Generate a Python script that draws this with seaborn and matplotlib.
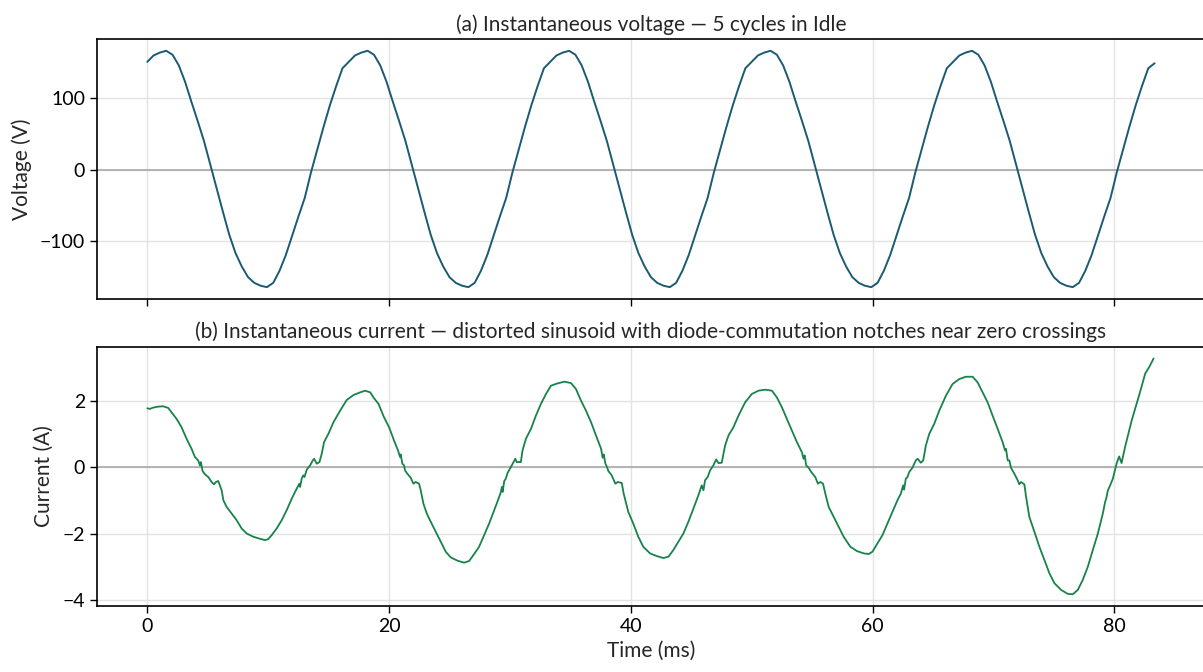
import numpy as np
import pandas as pd
import matplotlib
matplotlib.use("Agg")
import matplotlib.pyplot as plt
import seaborn as sns

# ---------------- data ----------------
# voltage sampled on a uniform grid, 32 samples per 60 Hz cycle, 5 cycles
voltage_v = [
    151, 160, 164, 166.5, 161, 146, 123, 95, 68, 40, 7, -26, -59, -91, -117, -136,
    -151, -159, -163, -165, -159, -142, -120, -93, -66, -40, -4, 28, 60, 90, 117, 142,
    151, 160, 164, 166.5, 161, 146, 123, 95, 68, 40, 7, -26, -59, -91, -117, -136,
    -151, -159, -163, -165, -159, -142, -120, -93, -66, -40, -4, 28, 60, 90, 117, 142,
    151, 160, 164, 166.5, 161, 146, 123, 95, 68, 40, 7, -26, -59, -91, -117, -136,
    -151, -159, -163, -165, -159, -142, -120, -93, -66, -40, -4, 28, 60, 90, 117, 142,
    151, 160, 164, 166.5, 161, 146, 123, 95, 68, 40, 7, -26, -59, -91, -117, -136,
    -151, -159, -163, -165, -159, -142, -120, -93, -66, -40, -4, 28, 60, 90, 117, 142,
    151, 160, 164, 166.5, 161, 146, 123, 95, 68, 40, 7, -26, -59, -91, -117, -136,
    -151, -159, -163, -165, -159, -142, -120, -93, -66, -40, -4, 28, 60, 90, 117, 142,
    149,
]
voltage_time_ms = np.linspace(0.0, 83.33, len(voltage_v))

current_time_ms = [
    0.0, 0.2, 0.48, 0.9, 1.31, 1.73, 2.0, 2.42, 2.83, 3.25, 3.66, 3.94, 4.21, 4.35, 4.43,
    4.57, 4.77, 5.04, 5.32, 5.51, 5.68, 5.87, 6.0, 6.15, 6.29, 6.56, 6.97, 7.39, 7.8, 8.22,
    8.77, 9.32, 9.74, 10.0, 10.29, 10.7, 11.12, 11.53, 11.95, 12.22, 12.4, 12.58, 12.64,
    12.77, 12.9, 13.0, 13.19, 13.47, 13.69, 13.8, 14.02, 14.24, 14.43, 14.62, 14.98, 15.4,
    15.95, 16.5, 17.06, 17.61, 18.02, 18.44, 18.7, 19.13,
    19.58, 20.0, 20.41, 20.74, 20.91, 20.96, 21.1, 21.24, 21.32, 21.51, 21.79, 22.01, 22.2,
    22.48, 22.62, 22.84, 23.12, 23.45, 23.86, 24.28, 24.69, 25.1, 25.66, 26.21, 26.62,
    27.04, 27.45, 27.87, 28.28, 28.7, 29.06, 29.25, 29.33, 29.39, 29.53, 29.66, 29.8,
    30.08, 30.3, 30.44, 30.57, 30.9, 31.04, 31.32, 31.74, 32.15, 32.56, 32.98, 33.39,
    33.94, 34.5, 35.05, 35.46, 35.88, 36.29, 36.71, 37.12, 37.54, 37.67, 37.76, 37.9,
    38.03, 38.14, 38.42, 38.72, 38.92, 39.25, 39.41,
    39.79, 40.2, 40.62, 41.03, 41.59, 42.14, 42.69, 43.11, 43.52, 43.93, 44.35, 44.76,
    45.18, 45.59, 45.87, 46.01, 46.14, 46.36, 46.56, 46.83, 47.06, 47.25, 47.52, 47.8,
    48.08, 48.49, 48.91, 49.46, 50.01, 50.56, 51.12, 51.67, 52.08, 52.5, 52.91, 53.33,
    53.74, 54.15, 54.29, 54.38, 54.51, 54.71, 54.93, 55.26, 55.48, 55.67, 55.9, 56.09,
    56.37, 56.78, 57.19, 57.61, 58.16, 58.71, 59.27, 59.68,
    59.99, 60.4, 60.82, 61.23, 61.65, 62.06, 62.34, 62.53, 62.61, 62.75, 62.89, 63.03,
    63.3, 63.58, 63.72, 64.0, 64.19, 64.41, 64.69, 65.1, 65.52, 66.07, 66.62, 67.17,
    67.72, 68.28, 68.69, 69.11, 69.52, 69.93, 70.35, 70.76, 70.96, 71.04, 71.18, 71.32,
    71.45, 71.73, 72.01, 72.14, 72.28, 72.56, 72.7, 72.97, 73.39, 73.8, 74.22, 74.63,
    75.05, 75.6, 76.15, 76.57, 76.98, 77.39, 77.81, 78.22, 78.64, 79.05, 79.24, 79.33,
    79.47, 79.66, 79.88, 80.2, 80.4, 80.6, 80.9, 81.45, 82.1, 82.56, 82.9, 83.25,
]
current_a = [
    1.78, 1.76, 1.80, 1.83, 1.84, 1.79, 1.66, 1.46, 1.21, 0.86, 0.56, 0.31, 0.21, 0.06, 0.16,
    -0.11, -0.21, -0.29, -0.44, -0.51, -0.44, -0.41, -0.54, -0.69, -0.99, -1.19, -1.39, -1.59, -1.84, -1.99,
    -2.09, -2.15, -2.19, -2.16, -2.04, -1.84, -1.59, -1.29, -0.94, -0.74, -0.61, -0.49, -0.59,
    -0.34, -0.24, -0.29, -0.07, 0.06, 0.21, 0.26, 0.11, 0.16, 0.41, 0.76, 1.01, 1.36,
    1.71, 2.03, 2.18, 2.26, 2.31, 2.26, 2.11, 1.91,
    1.51, 1.21, 0.81, 0.51, 0.31, 0.39, 0.11, 0.06, -0.09, -0.19, -0.31, -0.49, -0.44,
    -0.49, -0.69, -1.09, -1.39, -1.64, -1.94, -2.24, -2.54, -2.71, -2.81, -2.87, -2.82,
    -2.61, -2.39, -2.04, -1.69, -1.29, -0.94, -0.74, -0.59, -0.74, -0.41, -0.34, -0.17,
    0.01, 0.16, 0.26, 0.16, 0.16, 0.51, 0.86, 1.16, 1.56, 1.91, 2.21, 2.46,
    2.53, 2.58, 2.54, 2.36, 2.01, 1.71, 1.36, 0.96, 0.56, 0.29, 0.39, 0.11,
    0.01, -0.11, -0.24, -0.49, -0.44, -0.47, -0.79,
    -1.34, -1.69, -2.09, -2.39, -2.59, -2.67, -2.73, -2.69, -2.49, -2.24, -1.99, -1.64,
    -1.24, -0.84, -0.54, -0.69, -0.39, -0.29, -0.09, 0.06, 0.24, 0.13, 0.14, 0.66,
    0.96, 1.21, 1.56, 1.96, 2.21, 2.31, 2.34, 2.31, 2.11, 1.81, 1.46, 1.11,
    0.76, 0.46, 0.26, 0.36, 0.06, -0.01, -0.14, -0.29, -0.49, -0.44, -0.49, -0.79,
    -1.19, -1.49, -1.79, -2.09, -2.39, -2.52, -2.59, -2.61,
    -2.54, -2.29, -2.04, -1.69, -1.34, -0.99, -0.79, -0.54, -0.67, -0.34, -0.29, -0.14,
    -0.01, 0.21, 0.26, 0.14, 0.21, 0.66, 1.01, 1.31, 1.71, 2.16, 2.51, 2.66,
    2.73, 2.73, 2.56, 2.26, 1.96, 1.56, 1.16, 0.76, 0.51, 0.56, 0.21, 0.21,
    -0.01, -0.19, -0.39, -0.51, -0.44, -0.51, -0.89, -1.49, -1.94, -2.39, -2.79, -3.19,
    -3.49, -3.69, -3.81, -3.82, -3.69, -3.39, -2.99, -2.49, -1.99, -1.39, -1.04, -0.94,
    -0.69, -0.54, -0.34, 0.13, 0.33, 0.13, 0.63, 1.43, 2.23, 2.83, 3.03, 3.28,
]

title_a = "(a) Instantaneous voltage \u2014 5 cycles in Idle"
title_b = ("(b) Instantaneous current \u2014 distorted sinusoid with "
           "diode-commutation notches near zero crossings")
xlabel = "Time (ms)"
ylabel_v = "Voltage (V)"
ylabel_i = "Current (A)"
x_ticks = [0, 20, 40, 60, 80]

volt_color = "#1b5a72"
curr_color = "#17834a"

# ---------------- style ----------------
sns.set_style("ticks")
plt.rcParams["font.family"] = ["Lato", "DejaVu Sans"]
plt.rcParams["axes.unicode_minus"] = True

fig = plt.figure(figsize=(12.03, 6.72), dpi=100)
ax1 = fig.add_axes([0.0806, 0.5551, 0.921, 0.3869])
ax2 = fig.add_axes([0.0806, 0.0982, 0.921, 0.3859], sharex=ax1)

df_v = pd.DataFrame({"t": voltage_time_ms, "v": voltage_v})
df_i = pd.DataFrame({"t": current_time_ms, "i": current_a})

sns.lineplot(data=df_v, x="t", y="v", ax=ax1, color=volt_color, linewidth=1.4, zorder=3)
sns.lineplot(data=df_i, x="t", y="i", ax=ax2, color=curr_color, linewidth=1.3, zorder=3)

for ax in (ax1, ax2):
    ax.axhline(0, color="#a9a9a9", linewidth=1.2, zorder=2)
    ax.grid(True, color="#e3e3e3", linewidth=1.0, zorder=0)
    ax.set_axisbelow(True)
    for s in ax.spines.values():
        s.set_linewidth(1.2)
        s.set_color("black")
    ax.tick_params(axis="both", length=5, width=1.0, labelsize=14, colors="black")

ax1.set_title(title_a, fontsize=15, pad=6)
ax2.set_title(title_b, fontsize=15, pad=6)
ax1.set_xlabel("")
ax1.set_ylabel(ylabel_v, fontsize=15, labelpad=6)
ax2.set_ylabel(ylabel_i, fontsize=15, labelpad=6)
ax2.set_xlabel(xlabel, fontsize=15, labelpad=4)
ax2.set_xticks(x_ticks)
ax1.tick_params(axis="x", labelbottom=False)
ax1.set_yticks([-100, 0, 100])
ax2.set_yticks([-4, -2, 0, 2])

fig.savefig("out.png", dpi=100)
